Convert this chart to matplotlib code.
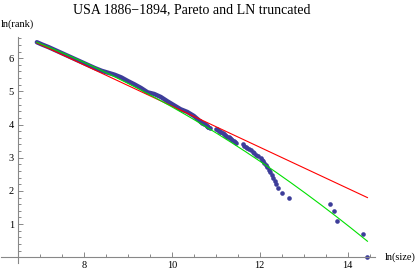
import math
import numpy as np
import matplotlib
matplotlib.use('Agg')
import matplotlib.pyplot as plt
from matplotlib.ticker import MultipleLocator

# --- DATOS ---

# cola superior: ln(tamaño) de las ciudades con rango 1..60
tail_lnsize = [14.45, 14.35, 13.75, 13.69, 13.60, 12.66, 12.51, 12.42, 12.36, 12.34,
               12.31, 12.27, 12.23, 12.20, 12.17, 12.14, 12.10, 12.08, 12.05, 12.03,
               11.97, 11.92, 11.88, 11.84, 11.80, 11.76, 11.72, 11.69, 11.65, 11.61,
               11.47, 11.44, 11.41, 11.38, 11.35, 11.32, 11.29, 11.26, 11.23, 11.21,
               11.18, 11.16, 11.13, 11.10, 11.07, 11.05, 11.03, 11.01, 10.86, 10.83,
               10.82, 10.80, 10.79, 10.77, 10.75, 10.73, 10.71, 10.69, 10.67, 10.65]
tail_rank = list(range(1, len(tail_lnsize) + 1))

# cuerpo (muy denso): ln(tamaño) y ln(rango) leídos sobre la banda
body_lnsize = [10.65, 10.5, 10.35, 10.2, 10.05, 9.9, 9.75, 9.6, 9.45, 9.3, 9.15,
               9.0, 8.85, 8.7, 8.55, 8.4, 8.25, 8.1, 7.95, 7.8, 7.65, 7.5, 7.35,
               7.2, 7.05, 6.93]
body_lnrank = [4.09, 4.26, 4.38, 4.46, 4.58, 4.70, 4.83, 4.92, 4.97, 5.10, 5.21,
               5.31, 5.42, 5.50, 5.56, 5.62, 5.70, 5.79, 5.88, 5.97, 6.06, 6.15, 6.24,
               6.33, 6.41, 6.48]

# ajustes
n_cities = 650
pareto_alpha = 0.62
pareto_const = 10.757
ln_mu, ln_sigma = 2.1, 3.5
lnsize_min, lnsize_max = 6.93, 14.45

# --- CURVAS AJUSTADAS ---
xs = np.linspace(lnsize_min, lnsize_max, 200)
pareto_y = pareto_const - pareto_alpha * xs


def ln_sf(x):
    return np.log([0.5 * math.erfc((v - ln_mu) / ln_sigma / math.sqrt(2)) for v in x])


ln_y = math.log(n_cities) + ln_sf(xs) - ln_sf([lnsize_min])[0]

# --- FIGURA ---
plt.rcParams['font.family'] = 'Liberation Serif'
fig = plt.figure(figsize=(4.15, 2.73), dpi=100)
ax = fig.add_axes([0.003, 0.037, 0.9004, 0.8278])

blue = '#3d3d99'
ax.plot(body_lnsize, body_lnrank, color=blue, lw=3.2, solid_capstyle='round',
        solid_joinstyle='round', zorder=2)
ax.scatter(tail_lnsize, np.log(tail_rank), s=11, color=blue, lw=0, zorder=2)
ax.plot(xs, pareto_y, color='#ff0000', lw=0.8, zorder=3)
ax.plot(xs, ln_y, color='#00e000', lw=0.8, zorder=4)

ax.set_xlim(6.12, 14.62)
ax.set_ylim(-0.17, 6.64)

# ejes estilo Mathematica
for s in ['top', 'right']:
    ax.spines[s].set_visible(False)
ax.spines['left'].set_position(('data', 6.5))
ax.spines['bottom'].set_position(('data', 0))
for s in ['left', 'bottom']:
    ax.spines[s].set_color('#888888')
    ax.spines[s].set_linewidth(0.8)

ax.set_xticks([8, 10, 12, 14])
ax.set_yticks([1, 2, 3, 4, 5, 6])
ax.xaxis.set_minor_locator(MultipleLocator(0.5))
ax.yaxis.set_minor_locator(MultipleLocator(0.2))
ax.tick_params(which='both', direction='in', color='#888888', width=0.7,
               labelsize=7.5, pad=3)
ax.tick_params(which='major', length=3.5)
ax.tick_params(which='minor', length=2)

fig.text(0.462, 0.963, 'USA 1886\u22121894, Pareto and LN truncated',
         ha='center', va='center', fontsize=10)
fig.text(0.002, 0.912, 'ln(rank)', ha='left', va='center', fontsize=7.5)
fig.text(0.927, 0.058, 'ln(size)', ha='left', va='center', fontsize=7.5)

fig.savefig('out.png', dpi=100)
